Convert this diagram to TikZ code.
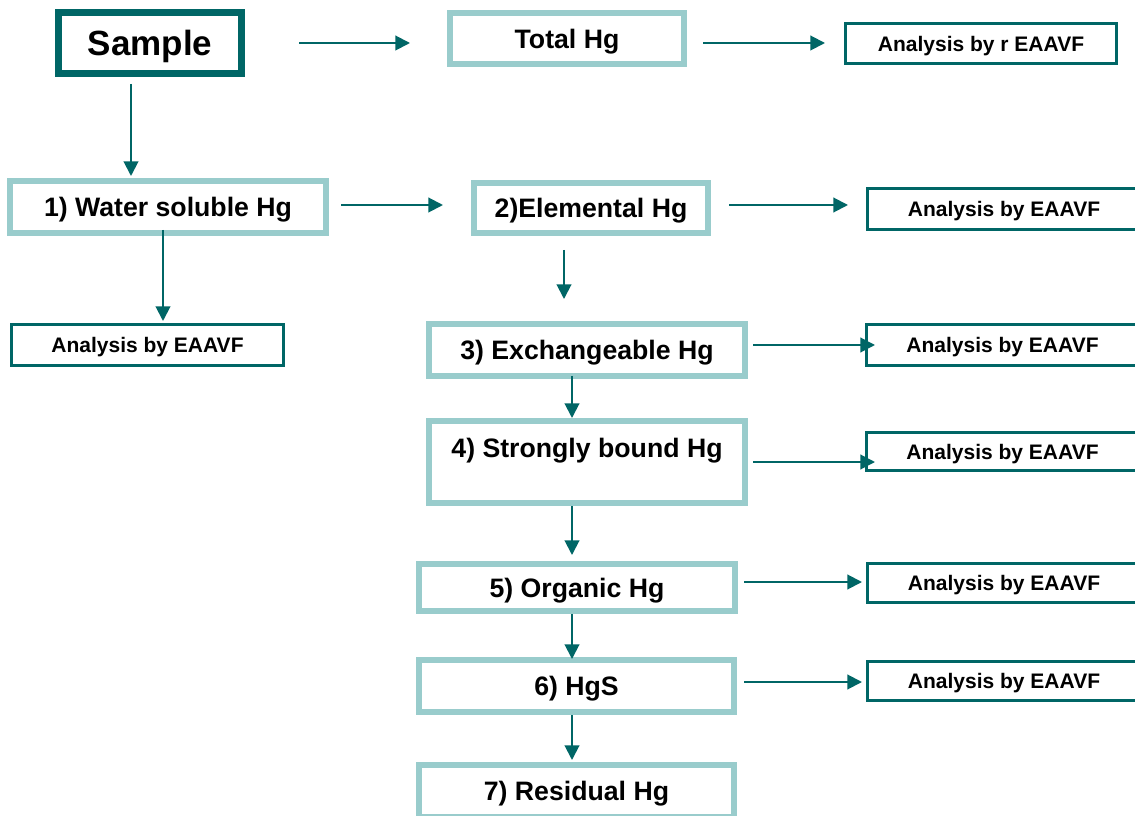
\documentclass[tikz,border=0pt]{standalone}
\usepackage{fontspec}
\setmainfont{Liberation Sans}
\usetikzlibrary{arrows.meta,calc}
\definecolor{dteal}{RGB}{0,102,102}
\definecolor{lteal}{RGB}{153,204,204}
\begin{document}
\begin{tikzpicture}[x=0.75pt,y=-0.75pt,
  lbox/.style={draw=lteal,line width=4.5pt,fill=white,inner sep=0pt,
    text height=14.3pt,text depth=0pt,font=\bfseries\fontsize{20}{24}\selectfont},
  lbl/.style={inner sep=0pt,text height=14.3pt,text depth=0pt,font=\bfseries\fontsize{20}{24}\selectfont},
  sbox/.style={draw=dteal,line width=5.25pt,fill=white,inner sep=0pt,
    text height=18.8pt,text depth=0pt,font=\bfseries\fontsize{26.25}{30}\selectfont},
  abox/.style={draw=dteal,line width=2.25pt,fill=white,inner sep=0pt,
    text height=11.3pt,text depth=0pt,font=\bfseries\fontsize{15.75}{19}\selectfont},
  arr/.style={draw=dteal,line width=1.5pt,-{Triangle[length=11pt,width=11pt]}}]
\useasboundingbox (0,0) rectangle (1135,816);
\clip (0,0) rectangle (1135,816);
\fill[white] (0,0) rectangle (1135,816);

% main boxes
\node[sbox,minimum width=137.25pt,minimum height=45.75pt] (sample) at (150,43) {Sample};
\node[lbox,minimum width=175.5pt,minimum height=38.25pt] (total) at (567,38.5) {Total Hg};
\node[lbox,minimum width=237pt,minimum height=39pt] (s1) at (168,207) {1) Water soluble Hg};
\node[lbox,minimum width=175.5pt,minimum height=37.5pt] (s2) at (591,208) {2)Elemental Hg};
\node[lbox,minimum width=237pt,minimum height=39pt] (s3) at (587,350) {3) Exchangeable Hg};
\node[lbox,minimum width=237pt,minimum height=61.5pt] (s4) at (587,462) {};
\node[lbl] (s4t) at (587,447.5) {4) Strongly bound Hg};
\node[lbox,minimum width=237pt,minimum height=35.25pt] (s5) at (577,587.5) {5) Organic Hg};
\node[lbox,minimum width=236.25pt,minimum height=39pt] (s6) at (576.5,686) {6) HgS};
\node[lbox,minimum width=236.25pt,minimum height=39pt] (s7) at (576.5,791) {7) Residual Hg};

% analysis boxes
\node[abox,minimum width=203.25pt,minimum height=30pt] (r0) at (981,43.5) {Analysis by r EAAVF};
\node[abox,minimum width=204.75pt,minimum height=30.75pt] (r2) at (1004,209) {Analysis by EAAVF};
\node[abox,minimum width=204pt,minimum height=30.75pt] (l1) at (147.5,345) {Analysis by EAAVF};
\node[abox,minimum width=204pt,minimum height=30.75pt] (r3) at (1002.5,345) {Analysis by EAAVF};
\node[abox,minimum width=204pt,minimum height=28.5pt] (r4) at (1002.5,451.5) {Analysis by EAAVF};
\node[abox,minimum width=204.75pt,minimum height=29.25pt] (r5) at (1004,583) {Analysis by EAAVF};
\node[abox,minimum width=204.75pt,minimum height=29.25pt] (r6) at (1004,681) {Analysis by EAAVF};

% free arrow ends
\coordinate (a1s) at (299,43);  \coordinate (a1e) at (410,43);
\coordinate (a2s) at (703,43);  \coordinate (a2e) at (825,43);
\coordinate (a3s) at (131,84);  \coordinate (a3e) at (131,176);
\coordinate (a4s) at (341,205); \coordinate (a4e) at (443,205);
\coordinate (a5s) at (729,205); \coordinate (a5e) at (848,205);
\coordinate (a6s) at (163,230); \coordinate (a6e) at (163,321);
\coordinate (a7s) at (564,250); \coordinate (a7e) at (564,299);
\coordinate (a8s) at (753,345); \coordinate (a8e) at (875,345);
\coordinate (a9s) at (753,462); \coordinate (a9e) at (875,462);
\coordinate (a10s) at (744,582); \coordinate (a10e) at (862,582);
\coordinate (a11s) at (744,682); \coordinate (a11e) at (862,682);
\coordinate (spine) at (572,0);

\draw[arr] (a1s) -- (a1e);
\draw[arr] (a2s) -- (a2e);
\draw[arr] (a3s) -- (a3e);
\draw[arr] (a4s) -- (a4e);
\draw[arr] (a5s) -- (a5e);
\draw[arr] (a6s) -- (a6e);
\draw[arr] (a7s) -- (a7e);
\draw[arr] (a8s) -- (a8e);
\draw[arr] (a9s) -- (a9e);
\draw[arr] (a10s) -- (a10e);
\draw[arr] (a11s) -- (a11e);
\draw[arr] ($(s3.south -| spine)+(0,-3)$) -- (s4.north -| spine);
\draw[arr] (s4.south -| spine) -- ($(s5.north -| spine)+(0,-6)$);
\draw[arr] (s5.south -| spine) -- ($(s6.north -| spine)+(0,2)$);
\draw[arr] (s6.south -| spine) -- ($(s7.north -| spine)+(0,-2)$);
\end{tikzpicture}
\end{document}
